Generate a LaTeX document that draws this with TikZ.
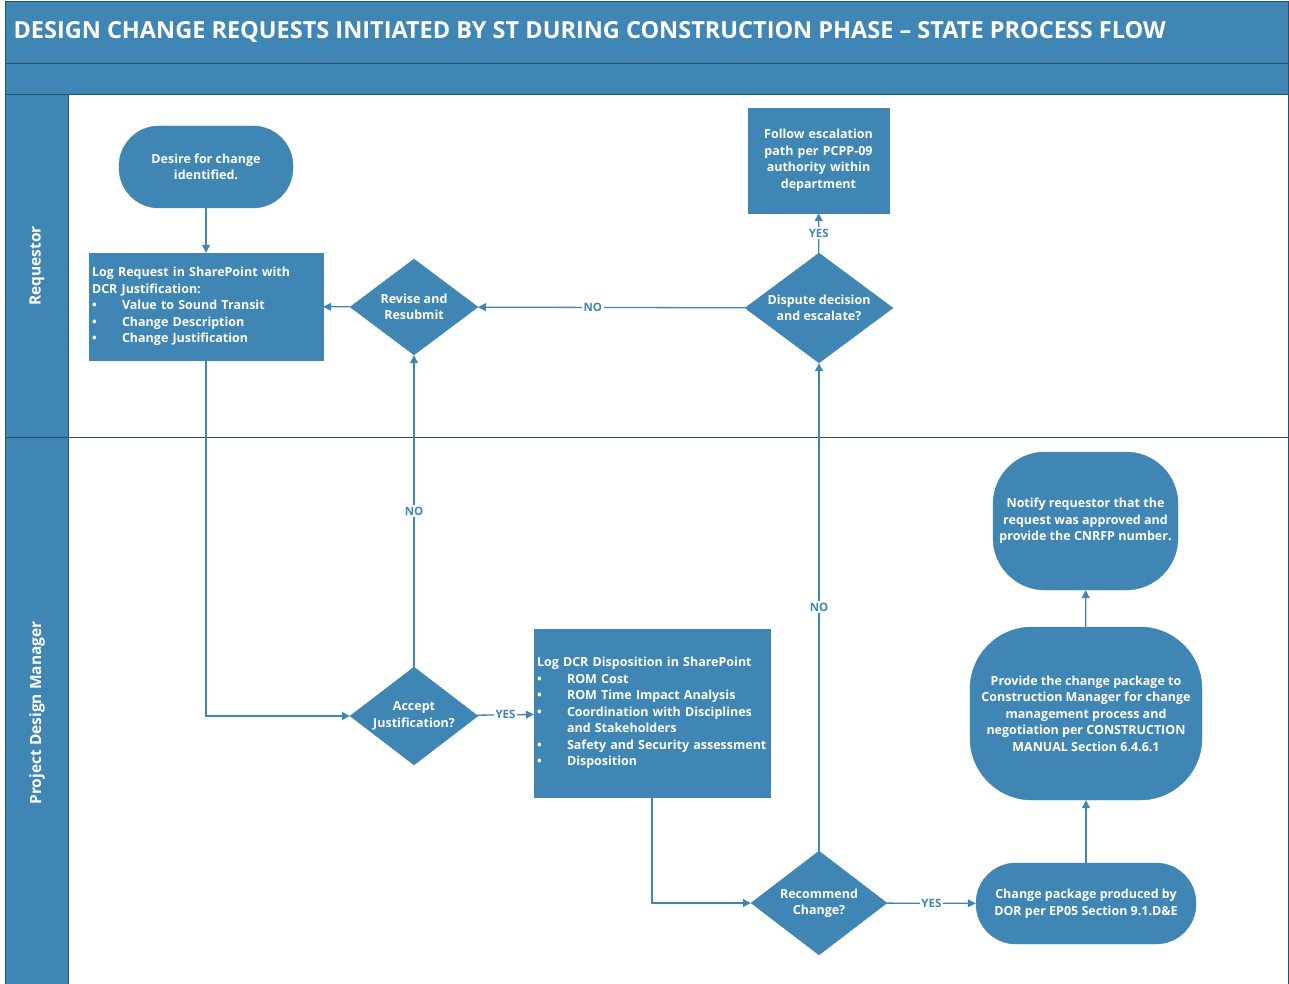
\documentclass[tikz,border=0pt]{standalone}
\usepackage{fontspec}
\setmainfont{Open Sans}
\usetikzlibrary{shapes.geometric,arrows.meta}

\definecolor{flowblue}{HTML}{4086B4}
\definecolor{laneline}{HTML}{24526F}

\tikzset{
  boxtext/.style={text=white,font=\bfseries\fontsize{12.5}{16.5}\selectfont},
  procbox/.style={boxtext,draw=flowblue,fill=flowblue,inner sep=3pt},
  termbox/.style={procbox,align=center,rounded corners=40pt},
  decision/.style={boxtext,diamond,shape aspect=1.3,draw=flowblue,fill=flowblue,
    align=center,inner sep=0pt},
  flow/.style={draw=flowblue,line width=1.3pt,-{Triangle[length=8pt,width=8pt]}},
  answer/.style={fill=white,text=flowblue,inner sep=1.5pt,
    font=\bfseries\fontsize{11.5}{13}\selectfont},
  lanename/.style={rotate=90,text=white,font=\bfseries\fontsize{15.5}{18}\selectfont},
}
\newcommand{\bitem}[1]{\makebox[30pt][l]{\textbullet}#1}

\begin{document}
\begin{tikzpicture}[x=1pt,y=-1pt]
    \useasboundingbox (0,0) rectangle (1289,984);

    % swimlane frame
    \fill[flowblue] (5,2) rectangle (1288,95);
    \fill[flowblue] (5,95) rectangle (68,984);
    \draw[laneline,line width=1pt] (5,64) -- (1288,64);
    \draw[laneline,line width=1pt] (5,95) -- (1288,95);
    \draw[laneline,line width=1pt] (5,437) -- (1288,437);
    \draw[laneline,line width=1pt] (68,95) -- (68,984);
    \draw[laneline,line width=1pt] (5,2) rectangle (1288,984);

    \node[anchor=west,text=white,font=\bfseries\fontsize{23.5}{26}\selectfont] (title) at (10,32)
      {DESIGN CHANGE REQUESTS INITIATED BY ST DURING CONSTRUCTION PHASE -- STATE PROCESS FLOW};
    \node[lanename] (lanereq) at (37,266) {Requestor};
    \node[lanename] (lanepdm) at (37,713) {Project Design Manager};

    % requestor lane
    \node[termbox,minimum width=174pt,minimum height=82pt] (start) at (206,167)
      {Desire for change\\identified.};
    \node[procbox,align=left,text width=228pt,minimum height=107pt] (logreq) at (206,306.5)
      {Log Request in SharePoint with\\DCR Justification:\\
       \bitem{Value to Sound Transit}\\\bitem{Change Description}\\\bitem{Change Justification}};
    \node[decision,minimum width=128pt,minimum height=96pt] (revise) at (414,307)
      {Revise and\\Resubmit};
    \node[decision,minimum width=148pt,minimum height=110pt] (dispute) at (819,308)
      {Dispute decision\\and escalate?};
    \node[procbox,align=center,text width=135pt,minimum height=105pt] (follow) at (818.5,160.5)
      {Follow escalation\\path per PCPP-09\\authority within\\department};

    % project design manager lane
    \node[decision,minimum width=128pt,minimum height=98pt] (accept) at (414,716)
      {Accept\\Justification?};
    \node[procbox,align=left,text width=230pt,minimum height=168pt] (logdcr) at (652,713)
      {Log DCR Disposition in SharePoint\\
       \bitem{ROM Cost}\\\bitem{ROM Time Impact Analysis}\\
       \bitem{Coordination with Disciplines}\\\hspace*{30pt}and Stakeholders\\
       \bitem{Safety and Security assessment}\\\bitem{Disposition}};
    \node[decision,minimum width=136pt,minimum height=104pt] (recommend) at (819,903)
      {Recommend\\Change?};
    \node[termbox,minimum width=220pt,minimum height=81pt] (package) at (1086,903.5)
      {Change package produced by\\DOR per EP05 Section 9.1.D\&E};
    \node[termbox,rounded corners=62pt,minimum width=232pt,minimum height=173pt] (provide) at (1086,713.5)
      {Provide the change package to\\Construction Manager for change\\management process and\\
       negotiation per CONSTRUCTION\\MANUAL Section 6.4.6.1};
    \node[termbox,rounded corners=52pt,minimum width=185pt,minimum height=138pt] (notify) at (1085.5,521)
      {Notify requestor that the\\request was approved and\\provide the CNRFP number.};

    % connectors
    \draw[flow] (start) -- (logreq);
    \draw[flow] (logreq.south) |- (accept.west);
    \draw[flow] (accept) -- node[answer] {NO} (revise);
    \draw[flow] (revise) -- (logreq);
    \draw[flow] (dispute) -- node[answer,pos=0.57] {NO} (revise);
    \draw[flow] (dispute) -- node[answer] {YES} (follow);
    \draw[flow] (accept) -- node[answer] {YES} (logdcr);
    \draw[flow] (logdcr.south) |- (recommend.west);
    \draw[flow] (recommend) -- node[answer] {NO} (dispute);
    \draw[flow] (recommend) -- node[answer] {YES} (package);
    \draw[flow] (package) -- (provide);
    \draw[flow] (provide) -- (notify);
\end{tikzpicture}
\end{document}
